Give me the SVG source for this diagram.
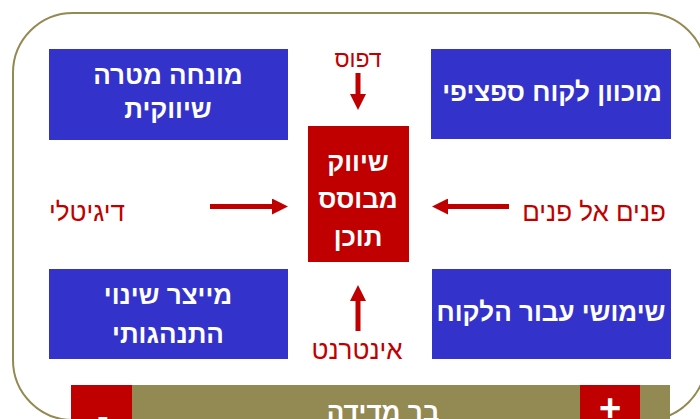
<svg xmlns="http://www.w3.org/2000/svg" width="700" height="419" viewBox="0 0 700 419">
<defs>
<style>
.blue{fill:#3333CC}
.red{fill:#C00000}
.wt{fill:#FFFFFF;font-family:"Liberation Sans","DejaVu Sans",sans-serif;font-weight:bold;font-size:26px;text-anchor:middle}
.rt{fill:#C00000;font-family:"Liberation Sans","DejaVu Sans",sans-serif;font-size:26px;text-anchor:middle}
.conn{stroke:#C00000;stroke-width:5;fill:none;marker-end:url(#ah)}
</style>
<marker id="ah" markerUnits="userSpaceOnUse" markerWidth="16" markerHeight="16" refX="4" refY="8" orient="auto">
<path d="M0,0 L16,8 L0,16 Z" fill="#C00000"/>
</marker>
</defs>
<rect width="700" height="419" fill="#FFFFFF"/>
<rect x="13" y="13" width="693" height="407" rx="60" ry="60" fill="#FFFFFF" stroke="#938953" stroke-width="2"/>
<g id="node-goal">
<rect class="blue" x="49" y="49" width="239" height="91"/>
<text class="wt" x="168" y="84">מונחה מטרה</text>
<text class="wt" x="168" y="118">שיווקית</text>
</g>
<g id="node-customer">
<rect class="blue" x="431" y="49" width="240" height="90"/>
<text class="wt" x="552" y="101">מוכוון לקוח ספציפי</text>
</g>
<g id="node-center">
<rect class="red" x="308" y="126" width="101" height="136"/>
<text class="wt" x="358" y="171">שיווק</text>
<text class="wt" x="358" y="208">מבוסס</text>
<text class="wt" x="358" y="246">תוכן</text>
</g>
<g id="node-behavior">
<rect class="blue" x="49" y="269" width="239" height="90"/>
<text class="wt" x="168" y="304">מייצר שינוי</text>
<text class="wt" x="168" y="343">התנהגותי</text>
</g>
<g id="node-useful">
<rect class="blue" x="432" y="269" width="239" height="90"/>
<text class="wt" x="551" y="321">שימושי עבור הלקוח</text>
</g>
<g id="label-print"><text class="rt" x="358" y="67" style="font-size:23px">דפוס</text></g>
<g id="label-digital"><text class="rt" x="87" y="221">דיגיטלי</text></g>
<g id="label-f2f"><text class="rt" x="594" y="221">פנים אל פנים</text></g>
<g id="label-internet"><text class="rt" x="357" y="359">אינטרנט</text></g>
<g id="connectors">
<line class="conn" x1="358" y1="73" x2="358" y2="98"/>
<line class="conn" x1="358" y1="331" x2="358" y2="297"/>
<line class="conn" x1="210" y1="206.5" x2="276" y2="206.5"/>
<line class="conn" x1="509" y1="206.5" x2="444" y2="206.5"/>
</g>
<g id="bar">
<rect x="71" y="385" width="599" height="40" fill="#938953"/>
<rect class="red" x="71" y="385" width="61" height="40"/>
<rect class="red" x="580" y="385" width="60" height="40"/>
<text class="wt" x="383" y="421">בר מדידה</text>
<text class="wt" x="103" y="428" style="font-size:34px">-</text>
<text class="wt" x="610" y="421" style="font-size:38px">+</text>
</g>
</svg>
